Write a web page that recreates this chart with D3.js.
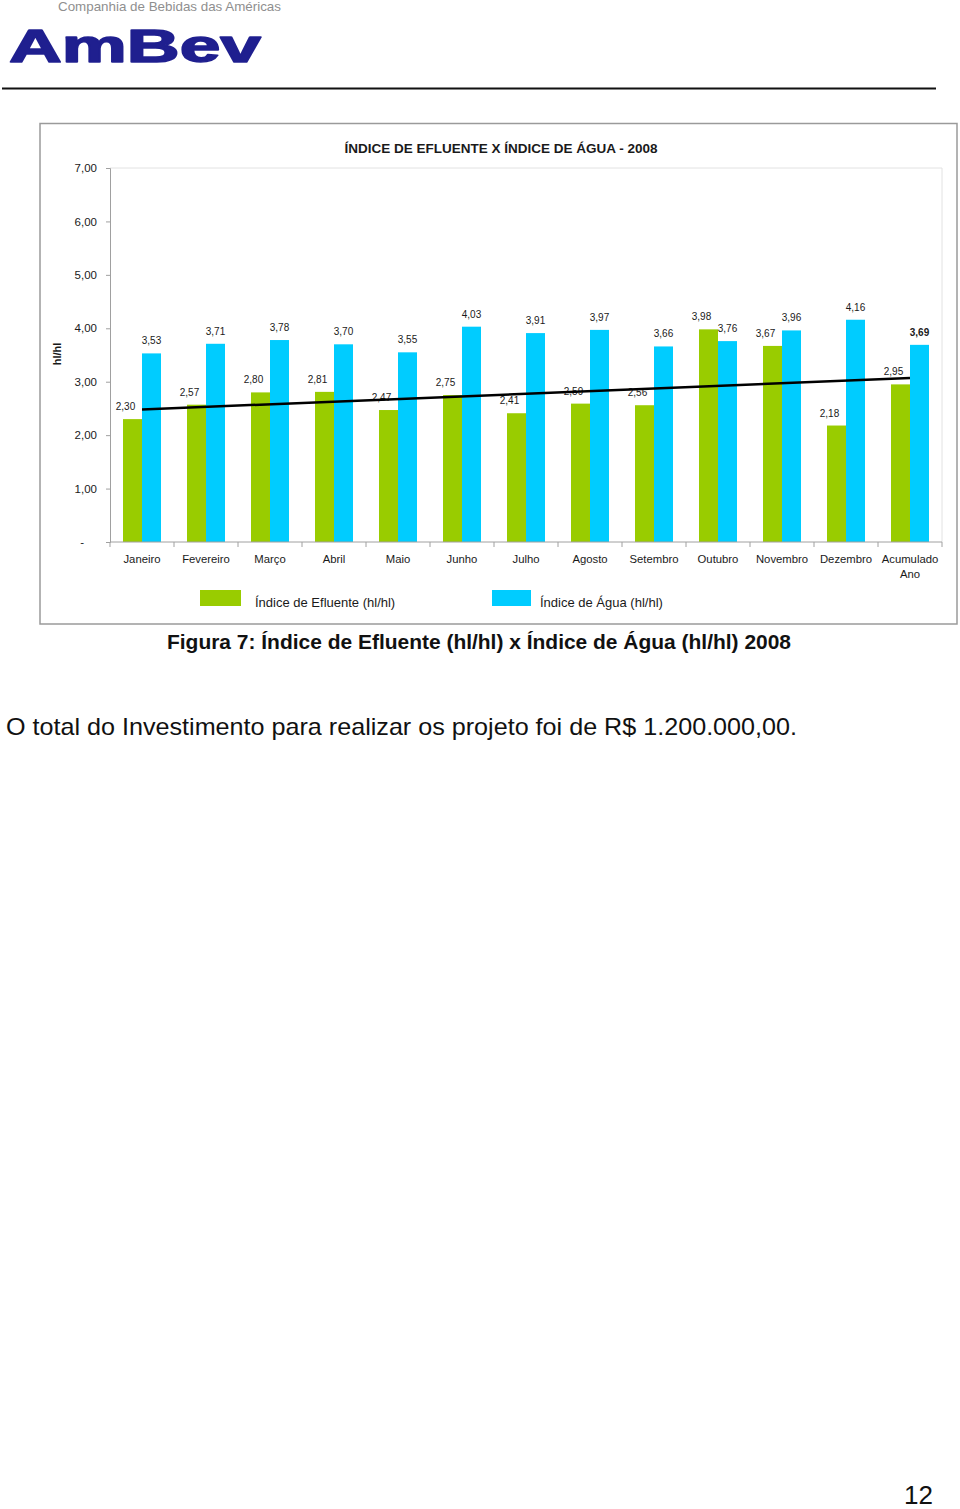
<!DOCTYPE html>
<html>
<head>
<meta charset="utf-8">
<script src="https://cdn.jsdelivr.net/npm/d3@7"></script>
<style>
  html, body { margin: 0; padding: 0; background: #fff; }
  svg { display: block; }
  text { font-family: "Liberation Sans", Arial, sans-serif; }
</style>
</head>
<body>
<script>
// ---- Data ----
const categories = ["Janeiro", "Fevereiro", "Março", "Abril", "Maio", "Junho", "Julho",
  "Agosto", "Setembro", "Outubro", "Novembro", "Dezembro", "Acumulado Ano"];
const seriesNames = ["Índice de Efluente (hl/hl)", "Índice de Água (hl/hl)"];
const efluente = [2.30, 2.57, 2.80, 2.81, 2.47, 2.75, 2.41, 2.59, 2.56, 3.98, 3.67, 2.18, 2.95];
const agua = [3.53, 3.71, 3.78, 3.70, 3.55, 4.03, 3.91, 3.97, 3.66, 3.76, 3.96, 4.16, 3.69];
const trendValues = [2.48, 3.07]; // linear trend of efluente, start (Janeiro) and end (Acumulado Ano)
const yTicks = [0, 1, 2, 3, 4, 5, 6, 7];
const colors = ["#99CC00", "#00CCFF"];

const W = 960, H = 1509;
const svg = d3.select("body").append("svg").attr("width", W).attr("height", H);

// ---- Header ----
svg.append("text").attr("x", 58).attr("y", 11)
  .attr("font-family", "'Open Sans', 'Noto Sans', sans-serif")
  .attr("font-size", 13).attr("fill", "#8f8f8f")
  .attr("textLength", 223).attr("lengthAdjust", "spacingAndGlyphs")
  .text("Companhia de Bebidas das Américas");
svg.append("text").attr("x", 9).attr("y", 62)
  .attr("font-family", "'DejaVu Sans', sans-serif").attr("font-weight", "bold")
  .attr("font-size", 47).attr("fill", "#1f1f8f")
  .attr("stroke", "#1f1f8f").attr("stroke-width", 1.6).attr("stroke-linejoin", "round")
  .attr("textLength", 252).attr("lengthAdjust", "spacingAndGlyphs")
  .text("AmBev");
svg.append("line").attr("x1", 2).attr("x2", 936).attr("y1", 88.5).attr("y2", 88.5)
  .attr("stroke", "#111").attr("stroke-width", 2);

// ---- Chart frame ----
svg.append("rect").attr("x", 40).attr("y", 123.5).attr("width", 917).attr("height", 500.5)
  .attr("fill", "#fff").attr("stroke", "#9a9a9a").attr("stroke-width", 1.5);

const plot = { left: 110, right: 942, top: 168, bottom: 542 };

const y = d3.scaleLinear().domain([0, 7]).range([plot.bottom, plot.top]);
const x = d3.scaleBand().domain(categories).range([plot.left, plot.right]).padding(0);
const x1 = d3.scaleBand().domain(seriesNames).range([13, x.bandwidth() - 13]).padding(0);

// plot area light frame
svg.append("path")
  .attr("d", `M${plot.left},${plot.top}H${plot.right}V${plot.bottom}`)
  .attr("fill", "none").attr("stroke", "#e2e2e2").attr("stroke-width", 1);

// Title
svg.append("text").attr("x", 501).attr("y", 152.5).attr("text-anchor", "middle")
  .attr("font-size", 13.5).attr("font-weight", "bold").attr("fill", "#1a1a1a")
  .text("ÍNDICE DE EFLUENTE X ÍNDICE DE ÁGUA - 2008");

// Y axis
const yAxis = svg.append("g").attr("transform", `translate(${plot.left},0)`)
  .call(d3.axisLeft(y).tickValues(yTicks).tickSize(4).tickPadding(9)
    .tickFormat(d => d === 0 ? "-" : d.toFixed(2).replace(".", ",")));
yAxis.select(".domain").attr("stroke", "#a0a0a0");
yAxis.selectAll(".tick line").attr("stroke", "#a0a0a0");
yAxis.selectAll(".tick text").attr("font-size", 11.5).attr("fill", "#1a1a1a")
  .attr("font-family", "'Liberation Sans', Arial, sans-serif")
  .attr("dx", d => d === 0 ? -13 : 0);

// Y title
svg.append("text").attr("transform", "translate(61,354) rotate(-90)")
  .attr("text-anchor", "middle").attr("font-size", 11).attr("font-weight", "bold")
  .attr("fill", "#1a1a1a").text("hl/hl");

// Bars
const data = categories.map((c, i) => ({ c, vals: [efluente[i], agua[i]] }));
const groups = svg.append("g").selectAll("g").data(data).join("g")
  .attr("transform", d => `translate(${x(d.c)},0)`);
groups.selectAll("rect").data(d => d.vals.map((v, j) => ({ s: seriesNames[j], v, j })))
  .join("rect")
  .attr("x", d => x1(d.s)).attr("width", x1.bandwidth())
  .attr("y", d => y(d.v)).attr("height", d => y(0) - y(d.v))
  .attr("fill", d => colors[d.j]);

// X axis
const xAxis = svg.append("g").attr("transform", `translate(0,${plot.bottom})`);
xAxis.append("line").attr("x1", plot.left).attr("x2", plot.right)
  .attr("stroke", "#a0a0a0");
xAxis.selectAll("line.tk").data(categories.map(c => x(c)).concat([plot.right]))
  .join("line").attr("class", "tk")
  .attr("x1", d => d).attr("x2", d => d).attr("y1", 0).attr("y2", 5)
  .attr("stroke", "#a0a0a0");
xAxis.selectAll("text.cat").data(categories).join("text").attr("class", "cat")
  .attr("x", d => x(d) + x.bandwidth() / 2).attr("y", 21)
  .attr("text-anchor", "middle").attr("font-size", 11.3).attr("fill", "#1a1a1a")
  .each(function (d) {
    const parts = d === "Acumulado Ano" ? ["Acumulado", "Ano"] : [d];
    const t = d3.select(this);
    parts.forEach((p, k) => t.append("tspan")
      .attr("x", x(d) + x.bandwidth() / 2).attr("dy", k === 0 ? 0 : 14.5).text(p));
  });

// Data labels
const fmt = v => v.toFixed(2).replace(".", ",");
groups.selectAll("text").data(d => d.vals.map((v, j) => ({ s: seriesNames[j], v, j, c: d.c })))
  .join("text")
  .attr("x", d => x1(d.s) + x1.bandwidth() / 2 + (d.j === 0 ? -7 : 0))
  .attr("y", d => y(d.v) - 9)
  .attr("text-anchor", "middle").attr("font-size", 10).attr("fill", "#1a1a1a")
  .attr("font-weight", d => (d.c === "Acumulado Ano" && d.j === 1) ? "bold" : "normal")
  .text(d => fmt(d.v));

// Trend line
const first = categories[0], last = categories[categories.length - 1];
svg.append("line")
  .attr("x1", x(first) + x.bandwidth() / 2).attr("y1", y(trendValues[0]))
  .attr("x2", x(last) + x.bandwidth() / 2).attr("y2", y(trendValues[1]))
  .attr("stroke", "#000").attr("stroke-width", 2.5);

// Legend
const legend = [{ x: 200, tx: 255 }, { x: 492, tx: 540 }];
legend.forEach((l, i) => {
  svg.append("rect").attr("x", l.x).attr("y", 590).attr("width", i === 0 ? 41 : 39).attr("height", 16)
    .attr("fill", colors[i]);
  svg.append("text").attr("x", l.tx).attr("y", 607).attr("font-size", 13)
    .attr("fill", "#1a1a1a").text(seriesNames[i]);
});

// Caption
svg.append("text").attr("x", 167).attr("y", 649)
  .attr("font-size", 20).attr("font-weight", "bold").attr("fill", "#111")
  .attr("textLength", 624).attr("lengthAdjust", "spacingAndGlyphs")
  .text("Figura 7: Índice de Efluente (hl/hl) x Índice de Água (hl/hl) 2008");

// Body text
svg.append("text").attr("x", 6).attr("y", 735)
  .attr("font-size", 24).attr("fill", "#111")
  .attr("textLength", 791).attr("lengthAdjust", "spacingAndGlyphs")
  .text("O total do Investimento para realizar os projeto foi de R$ 1.200.000,00.");

// Page number
svg.append("text").attr("x", 933).attr("y", 1504).attr("text-anchor", "end")
  .attr("font-size", 26).attr("fill", "#111").text("12");
</script>
</body>
</html>
